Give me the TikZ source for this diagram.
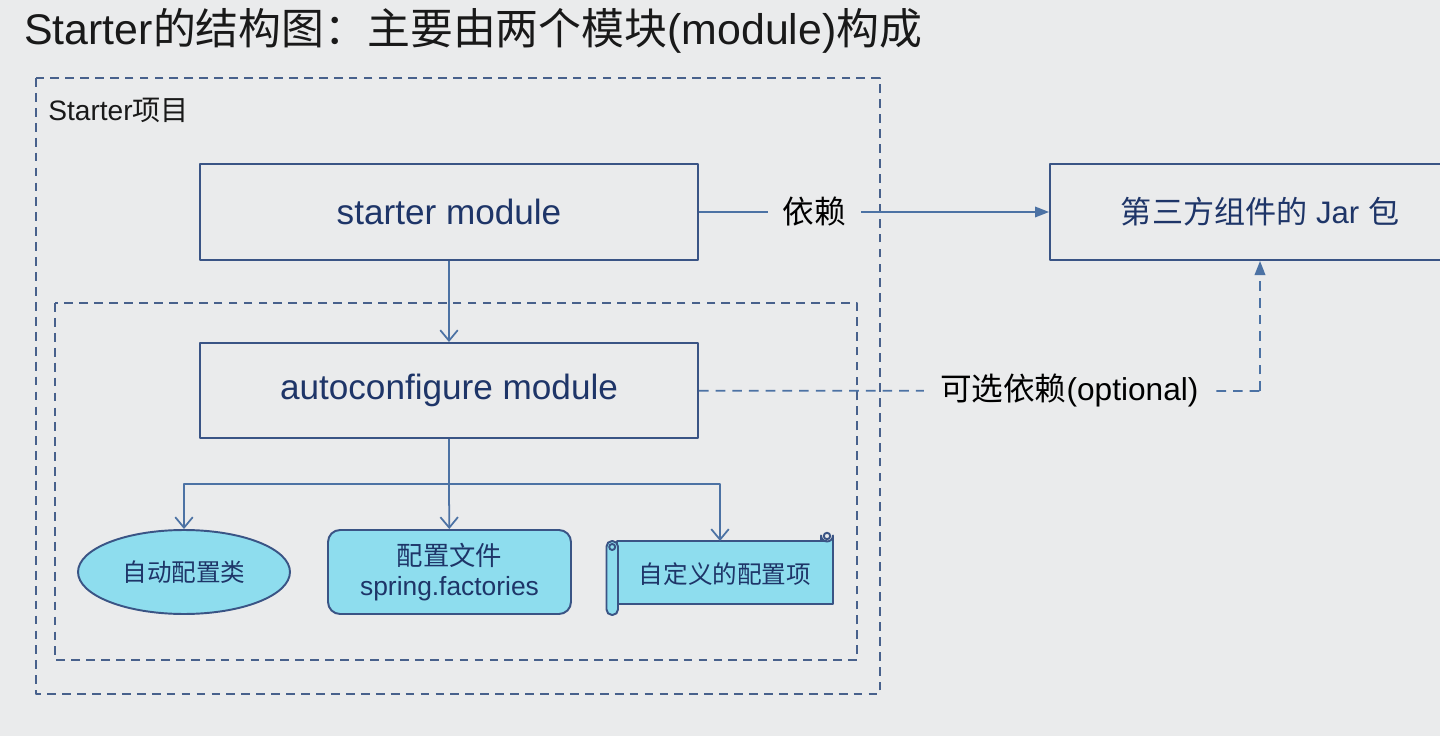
\documentclass[tikz,border=0pt]{standalone}
\usepackage{fontspec}
\setmainfont{Liberation Sans}
\newfontfamily\cjk{Noto Sans CJK SC}
\usetikzlibrary{shapes.geometric,arrows.meta}

\definecolor{bg}{HTML}{EAEBEC}
\definecolor{boxline}{HTML}{3A5485}
\definecolor{boxtext}{HTML}{1E3568}
\definecolor{arrowline}{HTML}{4C72A4}
\definecolor{dashline}{HTML}{48618C}
\definecolor{cyanfill}{HTML}{8EDDEE}

\begin{document}
\begin{tikzpicture}[x=0.02cm, y=-0.02cm, line join=round,
        every node/.append style={font=\fontsize{18pt}{21pt}\selectfont},
        container/.style={draw=dashline, line width=1.1pt, dash pattern=on 5pt off 3.5pt},
        link/.style={draw=arrowline, line width=1pt},
        open/.style={-{Straight Barb[length=6pt,width=10pt]}},
        solid tip/.style={-{Triangle[length=8pt,width=6pt]}}]
      \tikzstyle{module} = [draw=boxline, line width=1.1pt, text=boxtext,
        minimum width=9.96cm, minimum height=1.92cm, inner sep=0pt,
        font=\fontsize{20pt}{24pt}\selectfont]
      \tikzstyle{part} = [draw=boxline, line width=1.1pt, fill=cyanfill, text=boxtext,
        inner sep=0pt, align=center, font=\fontsize{15pt}{17pt}\selectfont]
      \tikzstyle{gap} = [fill=bg, inner ysep=2pt, text=black]
      % background and frame
      \fill[bg] (0,0) rectangle (1440,736);
      \useasboundingbox (0,0) rectangle (1440,736);
      \node (title) [anchor=west, inner sep=0pt, text=black!90,
        font=\fontsize{24.4pt}{28pt}\selectfont] at (24,31)
        {Starter{\cjk 的结构图：主要由两个模块}(module){\cjk 构成}};
      % containers
      \draw[container] (36,78) rectangle (880,694);
      \draw[container] (55,303) rectangle (857,660);
      \node (project) [anchor=west, inner sep=0pt, text=black!90,
        font=\fontsize{16pt}{19pt}\selectfont] at (48,110) {Starter{\cjk 项目}};
      % modules
      \node (starter) [module] at (449,212) {\raisebox{-2pt}{starter module}};
      \node (autoconf) [module, minimum height=1.9cm] at (449,390.5) {\raisebox{-2pt}{autoconfigure module}};
      \node (jar) [module, minimum width=8.4cm, font=\fontsize{17.7pt}{21pt}\selectfont]
        at (1260,212) {{\cjk 第三方组件的} Jar {\cjk 包}};
      % parts of the autoconfigure module
      \node (autoclass) [part, ellipse, minimum width=4.24cm, minimum height=1.68cm,
        font=\fontsize{14pt}{17pt}\selectfont] at (184,572) {\cjk 自动配置类};
      \node (factories) [part, rounded corners=0.24cm, minimum width=4.86cm,
        minimum height=1.68cm] at (449.5,572) {{\cjk 配置文件}\\spring.factories};
      % scroll shape
      \filldraw[draw=boxline, line width=1.1pt, fill=cyanfill]
        (617,541) -- (821,541) -- (821,535.5) arc[start angle=180, end angle=0, radius=6]
        -- (833,604) -- (617,604) -- cycle;
      \filldraw[draw=boxline, line width=1.1pt, fill=cyanfill, rounded corners=0.11cm]
        (606.5,541) rectangle (618,615);
      \draw[boxline, line width=1.1pt] (827,536) circle[radius=3.2];
      \draw[boxline, line width=1.1pt] (612.2,547) circle[radius=3];
      \draw[boxline, line width=1.1pt] (821,541) -- (827,541);
      \node (props) [inner sep=0pt, text=boxtext, minimum width=4.32cm, minimum height=1.28cm,
        font=\fontsize{14pt}{17pt}\selectfont] at (725,574) {\cjk 自定义的配置项};
      \coordinate (fork) at (449,484);
      \coordinate (propsin) at (720,541);
      \coordinate (optbend) at (1260,391);
      % connectors
      \draw[link, open] (starter) -- (autoconf);
      \draw[link] (autoconf) -- (fork);
      \draw[link, open] (fork) -| (autoclass);
      \draw[link, open] (fork) -- (factories);
      \draw[link, open] (fork) -| (propsin);
      \draw[link, solid tip] (starter) -- node [gap, pos=0.33, inner xsep=8.5pt] {\cjk 依赖} (jar);
      \draw[link, dash pattern=on 5.5pt off 4pt] (autoconf) -- node [gap, pos=0.66, inner xsep=9pt]
        {{\cjk 可选依赖}(optional)} (optbend);
      \draw[link, dash pattern=on 5.5pt off 4pt, solid tip] (optbend) -- (jar);
\end{tikzpicture}
\end{document}
